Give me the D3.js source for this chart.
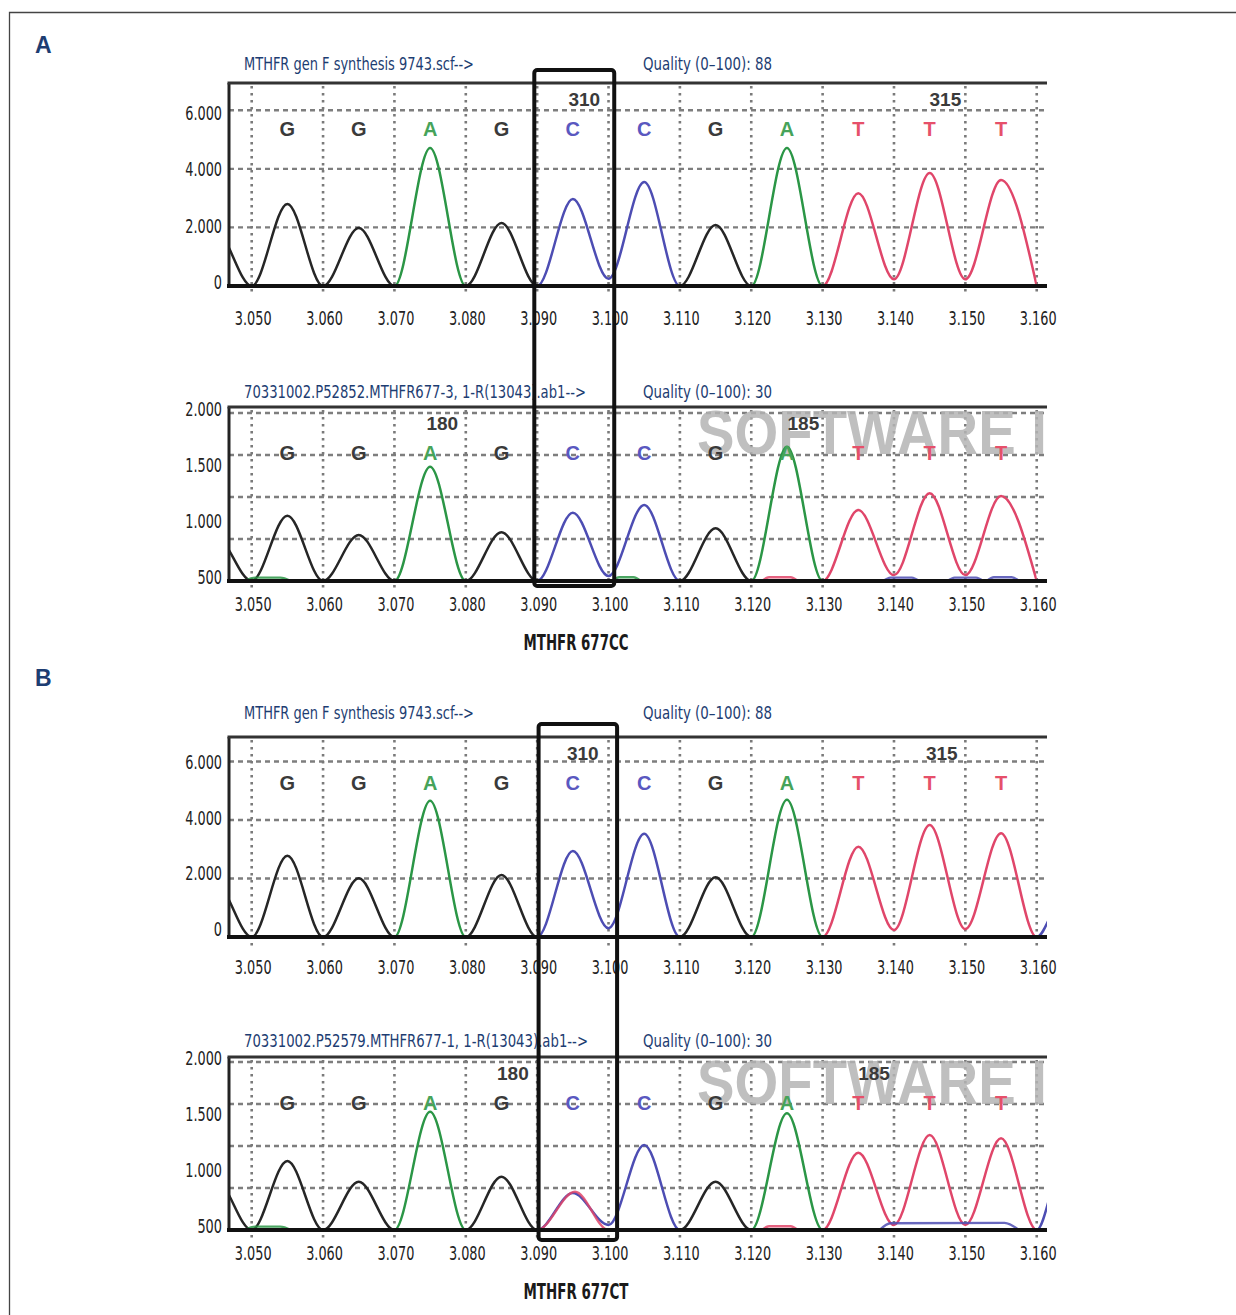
<!DOCTYPE html>
<html><head><meta charset="utf-8">
<script src="https://cdn.jsdelivr.net/npm/d3@7"></script>
<style>
html,body{margin:0;padding:0;background:#fff;}
svg{display:block;}
</style></head><body>
<svg id="chart" width="1236" height="1315"></svg>
<script>
// ================= DATA =================
const xTicks = [3.050,3.060,3.070,3.080,3.090,3.100,3.110,3.120,3.130,3.140,3.150,3.160];
const xTickLabels = ["3.050","3.060","3.070","3.080","3.090","3.100","3.110","3.120","3.130","3.140","3.150","3.160"];

const peakPositions   = [3.045,3.055,3.065,3.075,3.085,3.095,3.105,3.115,3.125,3.135,3.145,3.155];
const valleyPositions = [3.040,3.050,3.060,3.070,3.080,3.090,3.100,3.110,3.120,3.130,3.140,3.150,3.160];
const peakBases       = ["G","G","G","A","G","C","C","G","A","T","T","T"];

const calledBases     = ["G","G","A","G","C","C","G","A","T","T","T"];
const calledPositions = [3.055,3.065,3.075,3.085,3.095,3.105,3.115,3.125,3.135,3.145,3.155];

// peak heights (signal units)
const heightsA1 = [1860,2800,1980,4710,2150,2970,3550,2080,4710,3170,3860,3620];
const valleysA1 = [0,0,0,0,0,0,250,0,0,0,230,230,0];
const heightsA2 = [527,777,548,1361,580,813,905,627,1599,845,1044,1012];
const valleysA2 = [0,0,0,0,0,0,60,0,0,0,70,70,0];
const heightsB1 = [1810,2780,2005,4660,2120,2940,3530,2040,4690,3090,3830,3550];
const valleysB1 = [0,0,0,0,0,0,300,0,0,0,240,270,0];
const heightsB2 = [596,821,575,1408,635,440,1012,575,1389,920,1131,1092];
const valleysB2 = [0,0,0,0,0,0,60,0,0,0,60,60,0];

// partly visible peaks beyond the right edge
const edgeB1 = {base:"C", pos:3.1635, h:1250};
const edgeB2 = {base:"C", pos:3.1635, h:750};

// small baseline signals / secondary peaks
const extrasA2 = [
  {base:"A", pts:[[3.049,0],[3.0505,40],[3.054,40],[3.0555,0]]},
  {base:"A", pts:[[3.1005,0],[3.1015,45],[3.1035,45],[3.1045,0]]},
  {base:"T", pts:[[3.1215,0],[3.1225,45],[3.1255,45],[3.1265,0]]},
  {base:"C", pts:[[3.1385,0],[3.1395,40],[3.1425,40],[3.1435,0]]},
  {base:"C", pts:[[3.1475,0],[3.1485,40],[3.1515,40],[3.1525,0]]},
  {base:"C", pts:[[3.1530,0],[3.1540,45],[3.1565,45],[3.1575,0]]}
];
const extrasB2 = [
  {base:"A", pts:[[3.049,0],[3.0505,40],[3.054,40],[3.0555,0]]},
  {base:"T", pts:[[3.1215,0],[3.1225,45],[3.1255,45],[3.1265,0]]},
  {base:"C", pts:[[3.1380,0],[3.1395,80],[3.1555,85],[3.1575,0]]},
  {base:"T", pts:[[3.085,0],[3.090,0],[3.0953,456],[3.100,0],[3.105,0]]}
];

const topGrid = [2000,4000,6000];
const topYTicks = [0,2000,4000,6000];
const topYTickLabels = ["0","2.000","4.000","6.000"];
const bottomGrid = [500,1000,1500,2000];
const bottomYTicks = [500,1000,1500,2000];
const bottomYTickLabels = ["500","1.000","1.500","2.000"];

const titleTop = "MTHFR gen F synthesis 9743.scf-->";
const titleA2 = "70331002.P52852.MTHFR677-3, 1-R(13043).ab1-->";
const titleB2 = "70331002.P52579.MTHFR677-1, 1-R(13043).ab1-->";
const qualityTop = "Quality (0\u2013100): 88";
const qualityBottom = "Quality (0\u2013100): 30";

const posLabelsA1 = ["310","315"], posLabelXA1 = [3.0966,3.1472];
const posLabelsB1 = ["310","315"], posLabelXB1 = [3.0964,3.1467];
const posLabelsA2 = ["180","185"], posLabelXA2 = [3.0767,3.1273];
const posLabelsB2 = ["180","185"], posLabelXB2 = [3.0866,3.1372];

const highlightA = [3.0896,3.1008];
const highlightB = [3.0902,3.1012];

const genotypeLabels = ["MTHFR 677CC","MTHFR 677CT"];
const panelLetters = ["A","B"];

// ================= STYLE / LAYOUT =================
const traceColor  = {G:"#262626", A:"#2b9646", C:"#4d4db3", T:"#e0466a"};
const letterColor = {G:"#3a3a3a", A:"#46a35a", C:"#5a58c0", T:"#e6506a"};
const NAVY = "#1d3d72";
const NARROW = "'Liberation Sans Narrow','DejaVu Sans Condensed','Arial Narrow',sans-serif";
const BOX_L = 229, BOX_R = 1047;
const digitW = 8.2, dotW = 4; // label width per glyph (px)
const labelWidth = s => s.split("").reduce((a,c)=>a+(c==="."?dotW:digitW),0);

const panels = [
  {id:"A1", top:83,  base:286,  ymax:6930, heights:heightsA1, valleys:valleysA1, grid:topGrid, yTicks:topYTicks, yLabels:topYTickLabels, yDom:[0,6000], yLab:[282,113], xLabY:318, titleY:70, title:titleTop, titleLen:230, quality:qualityTop, posLabels:posLabelsA1, posX:posLabelXA1, watermark:false, edge:null, extras:[]},
  {id:"A2", top:407, base:581,  ymax:2071, heights:heightsA2, valleys:valleysA2, grid:bottomGrid, yTicks:bottomYTicks, yLabels:bottomYTickLabels, yDom:[500,2000], yLab:[577,409], xLabY:604, titleY:398, title:titleA2, titleLen:342, quality:qualityBottom, posLabels:posLabelsA2, posX:posLabelXA2, watermark:true, edge:null, extras:extrasA2},
  {id:"B1", top:737, base:937,  ymax:6840, heights:heightsB1, valleys:valleysB1, grid:topGrid, yTicks:topYTicks, yLabels:topYTickLabels, yDom:[0,6000], yLab:[929,762], xLabY:967, titleY:719, title:titleTop, titleLen:230, quality:qualityTop, posLabels:posLabelsB1, posX:posLabelXB1, watermark:false, edge:edgeB1, extras:[]},
  {id:"B2", top:1057, base:1230, ymax:2060, heights:heightsB2, valleys:valleysB2, grid:bottomGrid, yTicks:bottomYTicks, yLabels:bottomYTickLabels, yDom:[500,2000], yLab:[1226,1058], xLabY:1253, titleY:1047, title:titleB2, titleLen:344, quality:qualityBottom, posLabels:posLabelsB2, posX:posLabelXB2, watermark:true, edge:edgeB2, extras:extrasB2}
];

// ================= DRAW =================
const svg = d3.select("#chart");
const defs = svg.append("defs");

// outer frame
svg.append("path").attr("d","M9.5,1315 V12.5 H1236")
  .attr("fill","none").attr("stroke","#444").attr("stroke-width",1.3);

const x = d3.scaleLinear().domain([3.04682, 3.16144]).range([BOX_L, BOX_R]);

panels.forEach(p => {
  const y = d3.scaleLinear().domain([0, p.ymax]).range([p.base, p.top]);
  const yl = d3.scaleLinear().domain(p.yDom).range(p.yLab);
  const g = svg.append("g").attr("class","panel-"+p.id);

  // titles
  g.append("text").attr("x",244).attr("y",p.titleY).text(p.title)
    .attr("font-family",NARROW).attr("font-size",18).attr("fill",NAVY)
    .attr("textLength",p.titleLen).attr("lengthAdjust","spacingAndGlyphs");
  g.append("text").attr("x",643).attr("y",p.titleY).text(p.quality)
    .attr("font-family",NARROW).attr("font-size",18).attr("fill",NAVY)
    .attr("textLength",129).attr("lengthAdjust","spacingAndGlyphs");

  // box clip
  const boxClip = "box-"+p.id;
  defs.append("clipPath").attr("id",boxClip).append("rect")
    .attr("x",BOX_L).attr("y",p.top-40).attr("width",BOX_R-BOX_L).attr("height",p.base-p.top+42);

  // horizontal dashed gridlines
  g.append("g").selectAll("line").data(p.grid).join("line")
    .attr("x1",BOX_L).attr("x2",BOX_R).attr("y1",d=>y(d)).attr("y2",d=>y(d))
    .attr("stroke","#7e7e7e").attr("stroke-width",2.4).attr("stroke-dasharray","5,4");

  // vertical dotted gridlines
  g.append("g").selectAll("line").data(xTicks).join("line")
    .attr("x1",d=>x(d)).attr("x2",d=>x(d)).attr("y1",p.top+3).attr("y2",p.base+9)
    .attr("stroke","#7a7a7a").attr("stroke-width",2.6).attr("stroke-dasharray","2.6,4.4");

  // watermark
  if (p.watermark) {
    g.append("text").attr("x",697).attr("y",p.top+47).text("SOFTWARE I")
      .attr("clip-path",`url(#${boxClip})`)
      .attr("font-family","'Liberation Sans Narrow','Liberation Sans',sans-serif")
      .attr("font-weight","bold").attr("font-size",63)
      .attr("fill","#b4b4b4").attr("opacity",0.85)
      .attr("textLength",350).attr("lengthAdjust","spacingAndGlyphs");
  }

  // continuous trace chain
  const chain = [];
  p.valleys.forEach((v,i) => {
    chain.push([valleyPositions[i], v]);
    if (i < peakPositions.length) chain.push([peakPositions[i], p.heights[i]]);
  });
  if (p.edge) { chain.push([p.edge.pos, p.edge.h]); chain.push([p.edge.pos+0.0065, 0]); }

  const line = d3.line().x(d=>x(d[0])).y(d=>y(d[1])).curve(d3.curveMonotoneX);
  const traces = g.append("g").attr("clip-path",`url(#${boxClip})`);

  ["G","A","C","T"].forEach(b => {
    const cid = `clr-${p.id}-${b}`;
    const cp = defs.append("clipPath").attr("id",cid);
    const intervals = [];
    peakBases.forEach((pb,i) => { if (pb===b) intervals.push([valleyPositions[i], valleyPositions[i+1]]); });
    if (p.edge && p.edge.base===b) intervals.push([valleyPositions[valleyPositions.length-1], p.edge.pos+0.0065]);
    cp.selectAll("rect").data(intervals).join("rect")
      .attr("x",d=>x(d[0])).attr("width",d=>x(d[1])-x(d[0]))
      .attr("y",p.top-10).attr("height",p.base-p.top+20);
    traces.append("g").attr("clip-path",`url(#${cid})`)
      .append("path").datum(chain).attr("d",line)
      .attr("fill","none").attr("stroke",traceColor[b]).attr("stroke-width",2.5)
      .attr("stroke-linejoin","round");
  });

  // extra small signals
  traces.selectAll("path.extra").data(p.extras).join("path").attr("class","extra")
    .attr("d",d=>line(d.pts)).attr("fill","none")
    .attr("stroke",d=>traceColor[d.base]).attr("stroke-width",2.4).attr("opacity",0.85);

  // called bases
  g.append("g").selectAll("text").data(calledBases).join("text")
    .attr("x",(d,i)=>x(calledPositions[i])).attr("y",p.top+46).attr("dy","0.36em")
    .attr("text-anchor","middle").text(d=>d)
    .attr("font-family","'Liberation Sans',Arial,sans-serif").attr("font-weight","bold")
    .attr("font-size",20).attr("fill",d=>letterColor[d]);

  // position numbers
  g.append("g").selectAll("text").data(p.posLabels).join("text")
    .attr("x",(d,i)=>x(p.posX[i])).attr("y",p.top+16).attr("dy","0.36em")
    .attr("text-anchor","middle").text(d=>d)
    .attr("font-family","'Liberation Sans',Arial,sans-serif").attr("font-weight","bold")
    .attr("font-size",19).attr("fill","#3a3a3a");

  // frame of plot: left, top, baseline
  g.append("line").attr("x1",BOX_L).attr("x2",BOX_L).attr("y1",p.top).attr("y2",p.base)
    .attr("stroke","#222").attr("stroke-width",3);
  g.append("line").attr("x1",BOX_L-1.5).attr("x2",BOX_R).attr("y1",p.top).attr("y2",p.top)
    .attr("stroke","#333").attr("stroke-width",3);
  g.append("line").attr("x1",BOX_L-2).attr("x2",BOX_R).attr("y1",p.base).attr("y2",p.base)
    .attr("stroke","#111").attr("stroke-width",4);

  // y axis labels
  const ya = g.append("g").attr("transform","translate(222,0)")
    .call(d3.axisLeft(yl).tickValues(p.yTicks).tickFormat((d,i)=>p.yLabels[i]).tickSize(0).tickPadding(0));
  ya.select(".domain").remove();
  ya.selectAll("text").attr("font-family",NARROW).attr("font-size",19).attr("fill","#222").attr("dy","0.35em")
    .attr("textLength",function(){ return labelWidth(this.textContent); }).attr("lengthAdjust","spacingAndGlyphs");

  // x axis labels
  const xa = g.append("g").attr("transform",`translate(1,${p.xLabY})`)
    .call(d3.axisBottom(x).tickValues(xTicks).tickFormat((d,i)=>xTickLabels[i]).tickSize(0).tickPadding(0));
  xa.select(".domain").remove();
  xa.selectAll("text").attr("font-family",NARROW).attr("font-size",19).attr("fill","#222").attr("y",0).attr("dy","0.35em")
    .attr("textLength",function(){ return labelWidth(this.textContent); }).attr("lengthAdjust","spacingAndGlyphs");
});

// highlight boxes
const hl = [{r:highlightA, y0:70, y1:586},{r:highlightB, y0:724, y1:1240}];
svg.append("g").selectAll("rect").data(hl).join("rect")
  .attr("x",d=>x(d.r[0])).attr("width",d=>x(d.r[1])-x(d.r[0]))
  .attr("y",d=>d.y0).attr("height",d=>d.y1-d.y0).attr("rx",3)
  .attr("fill","none").attr("stroke","#111").attr("stroke-width",4);

// genotype labels
svg.append("g").selectAll("text").data(genotypeLabels).join("text")
  .attr("x",576).attr("y",(d,i)=>[650,1299][i]).attr("text-anchor","middle").text(d=>d)
  .attr("font-family",NARROW).attr("font-weight","bold").attr("font-size",21).attr("fill","#1a1a1a")
  .attr("textLength",105).attr("lengthAdjust","spacingAndGlyphs");

// panel letters
svg.append("g").selectAll("text").data(panelLetters).join("text")
  .attr("x",35).attr("y",(d,i)=>[53,686][i]).text(d=>d)
  .attr("font-family","'Liberation Sans',Arial,sans-serif").attr("font-weight","bold")
  .attr("font-size",23).attr("fill",NAVY);
</script>
</body></html>
